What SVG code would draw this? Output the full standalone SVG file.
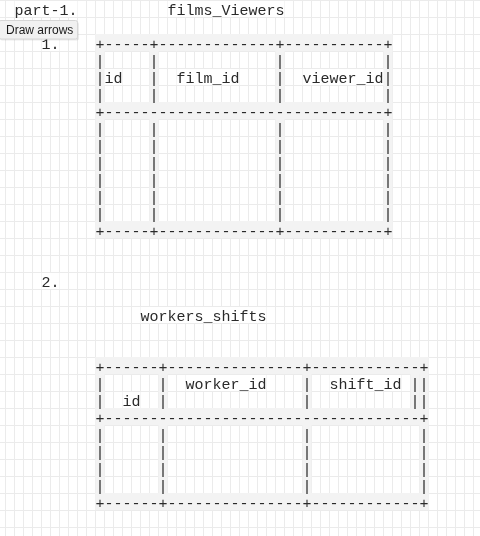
<svg xmlns="http://www.w3.org/2000/svg" width="480" height="536" viewBox="0 0 480 536" xml:space="preserve">
<style>
.mono{font-family:"Liberation Mono","DejaVu Sans Mono",monospace;font-size:15px;fill:#2a2a2a;white-space:pre}
.band{fill:#f3f3f3}
.wbg{fill:#ffffff}
.tip{font-family:"Liberation Sans",Arial,sans-serif;font-size:12px;fill:#1a1a1a}
</style>
<defs>
<pattern id="grid" x="5" y="0" width="9" height="17" patternUnits="userSpaceOnUse">
<rect x="0" y="0" width="1" height="17" fill="#ebebeb"/>
<rect x="0" y="0" width="9" height="1" fill="#ebebeb"/>
</pattern>
<filter id="gray" filterUnits="userSpaceOnUse" x="0" y="0" width="480" height="536" color-interpolation-filters="sRGB">
<feColorMatrix type="saturate" values="0"/>
</filter>
</defs>
<rect x="0" y="0" width="480" height="536" fill="#ffffff"/>
<rect x="0" y="0" width="480" height="536" fill="url(#grid)"/>

<g filter="url(#gray)">
<g id="title-part1">
<rect class="wbg" x="14.5" y="1" width="63" height="16"/>
<text class="mono" x="14.5" y="15">part-1.</text>
</g>
<g id="title-films-viewers">
<rect class="wbg" x="167.5" y="1" width="117" height="16"/>
<text class="mono" x="167.5" y="15">films_Viewers</text>
</g>
<g id="label-1">
<rect class="wbg" x="41.5" y="35" width="18" height="16"/>
<text class="mono" x="41.5" y="49">1.</text>
</g>

<g id="table-films-viewers">
<rect class="band" x="95.5" y="34" width="297" height="17"/>
<rect class="band" x="95.5" y="102" width="297" height="17"/>
<rect class="band" x="95.5" y="221" width="297" height="17"/>
<rect class="band" x="95.5" y="34" width="9" height="204"/>
<rect class="band" x="149.5" y="34" width="9" height="204"/>
<rect class="band" x="275.5" y="34" width="9" height="204"/>
<rect class="band" x="383.5" y="34" width="9" height="204"/>
<rect class="wbg" x="104.5" y="69" width="18" height="16"/>
<rect class="wbg" x="176.5" y="69" width="63" height="16"/>
<rect class="wbg" x="302.5" y="69" width="81" height="16"/>
<text class="mono" x="95.5" y="49">+-----+-------------+-----------+</text>
<text class="mono" x="95.5" y="66">|     |             |           |</text>
<text class="mono" x="95.5" y="83">|id   |  film_id    |  viewer_id|</text>
<text class="mono" x="95.5" y="100">|     |             |           |</text>
<text class="mono" x="95.5" y="117">+-------------------------------+</text>
<text class="mono" x="95.5" y="134">|     |             |           |</text>
<text class="mono" x="95.5" y="151">|     |             |           |</text>
<text class="mono" x="95.5" y="168">|     |             |           |</text>
<text class="mono" x="95.5" y="185">|     |             |           |</text>
<text class="mono" x="95.5" y="202">|     |             |           |</text>
<text class="mono" x="95.5" y="219">|     |             |           |</text>
<text class="mono" x="95.5" y="236">+-----+-------------+-----------+</text>
</g>

<g id="label-2">
<rect class="wbg" x="41.5" y="273" width="18" height="16"/>
<text class="mono" x="41.5" y="287">2.</text>
</g>
<g id="title-workers-shifts">
<rect class="wbg" x="140.5" y="307" width="126" height="16"/>
<text class="mono" x="140.5" y="321">workers_shifts</text>
</g>

<g id="table-workers-shifts">
<rect class="band" x="95.5" y="357" width="333" height="17"/>
<rect class="band" x="95.5" y="408" width="333" height="17"/>
<rect class="band" x="95.5" y="493" width="333" height="17"/>
<rect class="band" x="95.5" y="357" width="9" height="153"/>
<rect class="band" x="158.5" y="357" width="9" height="153"/>
<rect class="band" x="302.5" y="357" width="9" height="153"/>
<rect class="band" x="419.5" y="357" width="9" height="153"/>
<rect class="band" x="410.5" y="374" width="9" height="34"/>
<rect class="wbg" x="185.5" y="375" width="81" height="16"/>
<rect class="wbg" x="329.5" y="375" width="72" height="16"/>
<rect class="wbg" x="122.5" y="392" width="18" height="16"/>
<text class="mono" x="95.5" y="372">+------+---------------+------------+</text>
<text class="mono" x="95.5" y="389">|      |  worker_id    |  shift_id ||</text>
<text class="mono" x="95.5" y="406">|  id  |               |           ||</text>
<text class="mono" x="95.5" y="423">+-----------------------------------+</text>
<text class="mono" x="95.5" y="440">|      |               |            |</text>
<text class="mono" x="95.5" y="457">|      |               |            |</text>
<text class="mono" x="95.5" y="474">|      |               |            |</text>
<text class="mono" x="95.5" y="491">|      |               |            |</text>
<text class="mono" x="95.5" y="508">+------+---------------+------------+</text>
</g>

<g id="connectors"/>

<g id="tooltip-draw-arrows">
<rect x="0" y="22" width="79" height="18.5" rx="2" fill="#000000" fill-opacity="0.08"/>
<rect x="-1" y="20.5" width="78.5" height="18.5" rx="2" fill="#f1f1f1" stroke="#d6d6d6" stroke-width="1"/>
<text class="tip" x="6" y="33.5">Draw arrows</text>
</g>
</g>
</svg>
